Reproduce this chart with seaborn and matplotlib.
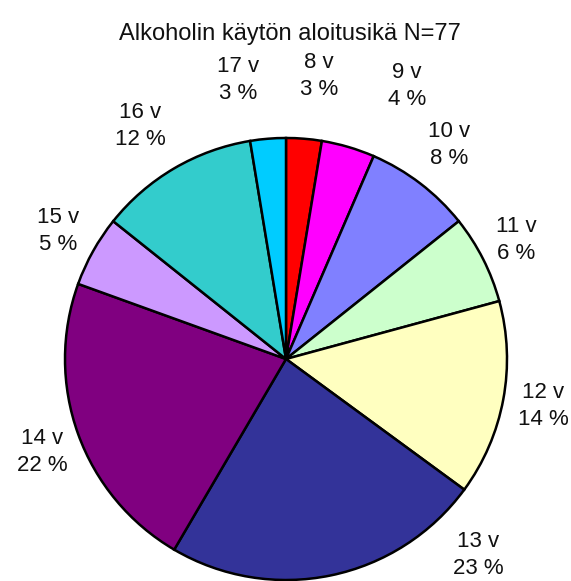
import matplotlib
matplotlib.use("Agg")
import matplotlib.pyplot as plt
import seaborn as sns

sns.set_style("white")
plt.rcParams['font.family'] = ['Liberation Sans', 'DejaVu Sans']

# Data
ages = ["8 v", "9 v", "10 v", "11 v", "12 v", "13 v", "14 v", "15 v", "16 v", "17 v"]
counts = [2, 3, 6, 5, 11, 18, 17, 4, 9, 2]
colors = ["#FF0000", "#FF00FF", "#8080FF", "#CCFFCC", "#FFFFC0",
          "#333399", "#800080", "#CC99FF", "#33CCCC", "#00CCFF"]
title = "Alkoholin käytön aloitusikä N=77"

# Label anchor positions in pixel space (layout only)
label_px = [(319, 76), (407, 86), (449, 145), (516, 240), (543, 406),
            (478, 555), (42, 452), (58, 231), (140, 126), (238, 80)]

W, H = 571, 581
cx, cy, R = 286, 359, 221

fig = plt.figure(figsize=(W / 100, H / 100), dpi=100)
ax = fig.add_axes([0, 0, 1, 1])
ax.pie(counts, colors=colors, startangle=90, counterclock=False, radius=1.0,
       wedgeprops=dict(edgecolor="black", linewidth=1.8))
ax.set_xlim(-cx / R, (W - cx) / R)
ax.set_ylim(-(H - cy) / R, cy / R)
ax.set_aspect("equal")
ax.axis("off")

total = sum(counts)
for lab, c, (px, py) in zip(ages, counts, label_px):
    pct = round(100 * c / total)
    ax.text((px - cx) / R, (cy - py) / R, f"{lab}\n{pct} %", ha="center",
            va="center", multialignment="center", fontsize=16,
            linespacing=1.4, color="#111111")

fig.text(290 / W, 1 - 34 / H, title, ha="center", va="center", fontsize=17,
         color="#111111")

fig.savefig("out.png", dpi=100)
